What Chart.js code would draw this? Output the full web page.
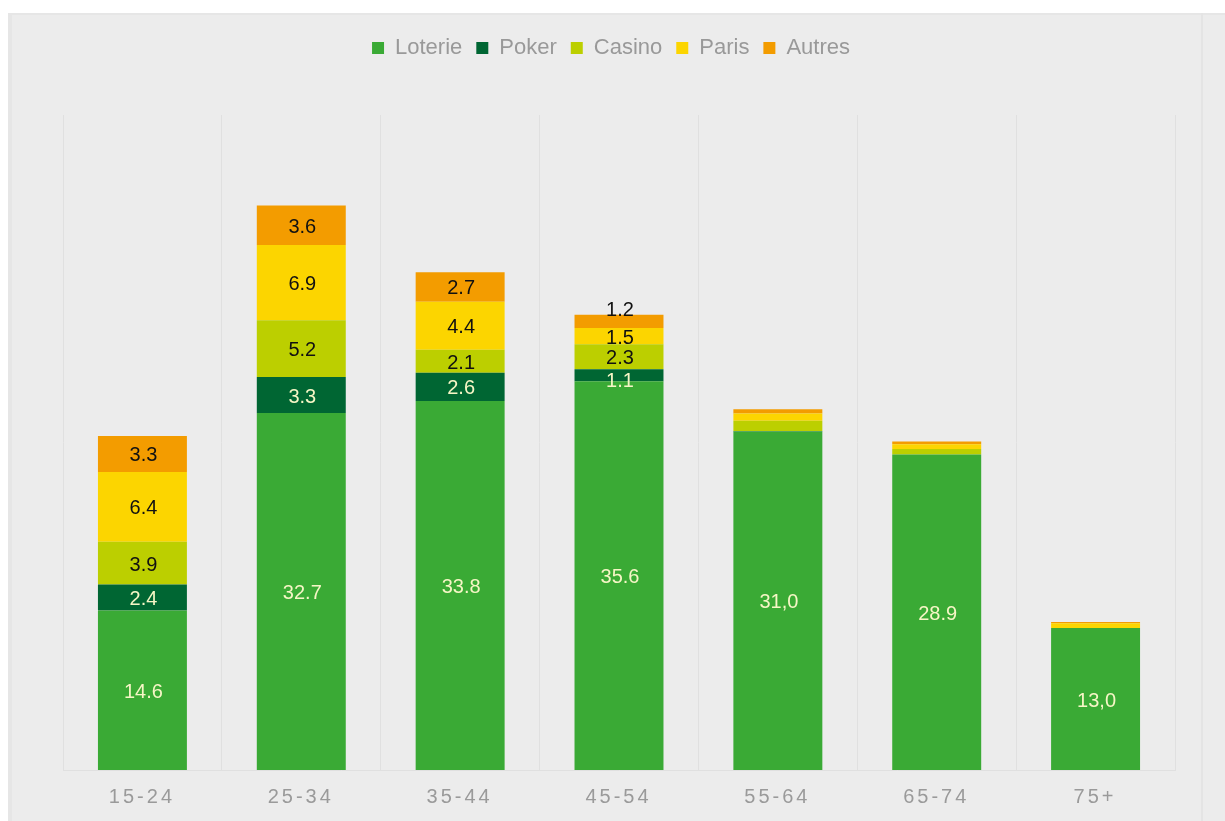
<!DOCTYPE html>
<html>
<head>
<meta charset="utf-8">
<script src="https://cdn.jsdelivr.net/npm/chart.js@4"></script>
<style>
  html, body { margin: 0; padding: 0; background: #ffffff; }
  #panel { position: absolute; left: 8px; top: 13px; width: 1217px; height: 808px; background: #ececec;
           border-left: 4px solid #e6e6e6; border-top: 2px solid #e6e6e6; box-sizing: border-box; }
  #rline { position: absolute; left: 1201px; top: 13px; width: 2px; height: 808px; background: #e4e4e4; }
  canvas { position: absolute; left: 0; top: 0; }
</style>
</head>
<body>
<div id="panel"></div>
<div id="rline"></div>
<canvas id="c" width="1225" height="821"></canvas>
<script>
// ---- data ----
const categories = ['15-24', '25-34', '35-44', '45-54', '55-64', '65-74', '75+'];
const loterie = [14.6, 32.7, 33.8, 35.6, 31.0, 28.9, 13.0];
const poker   = [2.4, 3.3, 2.6, 1.1, 0.05, 0.0, 0.0];
const casino  = [3.9, 5.2, 2.1, 2.3, 0.95, 0.5, 0.0];
const paris   = [6.4, 6.9, 4.4, 1.5, 0.65, 0.45, 0.45];
const autres  = [3.3, 3.6, 2.7, 1.2, 0.4, 0.25, 0.1];

const loterieLabels = ['14.6', '32.7', '33.8', '35.6', '31,0', '28.9', '13,0'];
const pokerLabels   = ['2.4', '3.3', '2.6', '1.1', '', '', ''];
const casinoLabels  = ['3.9', '5.2', '2.1', '2.3', '', '', ''];
const parisLabels   = ['6.4', '6.9', '4.4', '1.5', '', '', ''];
const autresLabels  = ['3.3', '3.6', '2.7', '1.2', '', '', ''];

const seriesNames = ['Loterie', 'Poker', 'Casino', 'Paris', 'Autres'];
const seriesColors = ['#3aaa35', '#006633', '#bccf00', '#fcd500', '#f39c00'];
const seriesValues = [loterie, poker, casino, paris, autres];
const seriesLabels = [loterieLabels, pokerLabels, casinoLabels, parisLabels, autresLabels];

const FONT = "'Liberation Sans', Arial, sans-serif";

// nudges for overlapping labels (dataset:index -> dy px)
const labelNudge = { '4:3': -13, '1:3': 4 };

const valueLabelPlugin = {
  id: 'valueLabels',
  afterDatasetsDraw(chart) {
    const ctx = chart.ctx;
    ctx.save();
    ctx.font = '20px ' + FONT;
    ctx.textAlign = 'center';
    ctx.textBaseline = 'middle';
    chart.data.datasets.forEach((ds, di) => {
      const meta = chart.getDatasetMeta(di);
      meta.data.forEach((bar, i) => {
        const txt = seriesLabels[di][i];
        if (!txt) return;
        const y = (bar.y + bar.base) / 2 + (labelNudge[di + ':' + i] || 0);
        ctx.fillStyle = di <= 1 ? '#f6f6c6' : '#111111';
        ctx.fillText(txt, bar.x + 1, y + 2);
      });
    });
    ctx.restore();
  }
};

const xLabelPlugin = {
  id: 'xLabels',
  afterDraw(chart) {
    const ctx = chart.ctx;
    const sx = chart.scales.x;
    ctx.save();
    ctx.font = '20px ' + FONT;
    ctx.fillStyle = '#9a9a9a';
    ctx.textAlign = 'center';
    ctx.textBaseline = 'middle';
    ctx.letterSpacing = '3px';
    sx.ticks.forEach((t, i) => {
      const x = sx.getPixelForTick(i);
      ctx.fillText(sx.getLabelForValue(t.value), x - 0.5, chart.chartArea.bottom + 27);
    });
    ctx.restore();
  }
};

const legendHeightPlugin = {
  id: 'legendHeight',
  beforeInit(chart) {
    const lg = chart.legend;
    if (!lg) return;
    const orig = lg.fit;
    lg.fit = function () {
      orig.call(this);
      this.height = 92;
    };
    const origDraw = lg.draw;
    lg.draw = function () {
      const ctx = this.ctx;
      ctx.save();
      ctx.translate(-8, 0);
      origDraw.apply(this, arguments);
      ctx.restore();
    };
  }
};

new Chart(document.getElementById('c'), {
  type: 'bar',
  data: {
    labels: categories,
    datasets: seriesNames.map((n, i) => ({
      label: n,
      data: seriesValues[i],
      backgroundColor: seriesColors[i],
      borderWidth: 0,
      barPercentage: 0.56,
      categoryPercentage: 1.0
    }))
  },
  options: {
    responsive: false,
    animation: false,
    devicePixelRatio: 1,
    layout: { padding: { left: 63, right: 50, top: 23, bottom: 51 } },
    plugins: {
      tooltip: { enabled: false },
      legend: {
        position: 'top',
        labels: {
          color: '#999999',
          font: { family: FONT, size: 22 },
          boxWidth: 12,
          boxHeight: 12,
          padding: 14
        }
      }
    },
    scales: {
      x: {
        stacked: true,
        grid: { display: true, offset: true, color: '#e0e0e0', lineWidth: 1, drawTicks: false },
        border: { display: true, color: '#e0e0e0', width: 1 },
        ticks: { display: false }
      },
      y: {
        stacked: true,
        display: false,
        min: 0,
        max: 60
      }
    }
  },
  plugins: [legendHeightPlugin, valueLabelPlugin, xLabelPlugin]
});
</script>
</body>
</html>
